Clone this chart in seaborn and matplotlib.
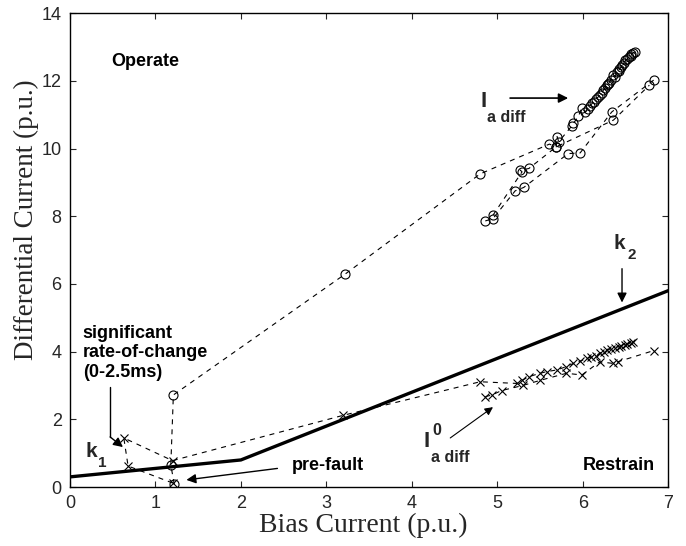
import matplotlib
matplotlib.use("Agg")
import matplotlib.pyplot as plt
import seaborn as sns

# Relay characteristic (bias vs. differential threshold)
char_bias = [0.0, 2.0, 7.0]
char_diff = [0.3, 0.8, 5.8]

# I_a diff trajectories (circles)
ia_main_bias = [1.22, 1.18, 1.21, 3.22, 4.80, 5.61, 5.69, 5.70, 5.72, 5.87, 5.89, 5.95, 5.99,
                6.03, 6.06, 6.08, 6.11, 6.13, 6.15, 6.18, 6.20, 6.22, 6.24, 6.26, 6.28,
                6.30, 6.31, 6.33, 6.36, 6.38, 6.40, 6.42, 6.43, 6.45, 6.46, 6.48, 6.50,
                6.52, 6.54, 6.56, 6.57, 6.59, 6.61]
ia_main_diff = [0.09, 0.65, 2.72, 6.29, 9.25, 10.13, 10.05, 10.35, 10.20, 10.66, 10.74, 10.95,
                11.21, 11.08, 11.18, 11.25, 11.33, 11.38, 11.45, 11.52, 11.58, 11.64, 11.72,
                11.78, 11.87, 11.90, 11.95, 12.03, 12.17, 12.12, 12.25, 12.30, 12.35, 12.40,
                12.46, 12.52, 12.60, 12.64, 12.71, 12.74, 12.78, 12.82, 12.86]
ia_b_bias = [4.86, 4.95, 5.21, 5.31, 5.83, 5.97, 6.34, 6.83]
ia_b_diff = [7.86, 7.93, 8.75, 8.85, 9.85, 9.87, 11.08, 12.02]
ia_c_bias = [4.95, 5.29, 5.27, 5.37, 5.69, 6.36, 6.78]
ia_c_diff = [8.03, 9.31, 9.36, 9.41, 10.05, 10.84, 11.87]

# I0_a diff trajectories (crosses)
i0_main_bias = [1.20, 0.68, 0.63, 1.20, 3.20, 4.80, 5.23, 5.29, 5.37, 5.50, 5.58, 5.70, 5.80,
                5.89, 5.97, 6.05, 6.10, 6.15, 6.20, 6.25, 6.28, 6.33, 6.38, 6.42, 6.45,
                6.49, 6.52, 6.56, 6.59]
i0_main_diff = [0.12, 0.62, 1.45, 0.78, 2.12, 3.11, 3.06, 3.15, 3.26, 3.36, 3.41, 3.46, 3.55,
                3.65, 3.72, 3.80, 3.84, 3.88, 3.95, 4.00, 4.05, 4.08, 4.12, 4.15, 4.18,
                4.20, 4.22, 4.26, 4.29]
i0_b_bias = [4.86, 4.94, 5.05, 5.30, 5.50, 5.81, 5.99, 6.20, 6.36, 6.41, 6.83]
i0_b_diff = [2.67, 2.72, 2.85, 3.00, 3.15, 3.36, 3.31, 3.70, 3.65, 3.70, 4.03]

x_ticks = [0, 1, 2, 3, 4, 5, 6, 7]
y_ticks = [0, 2, 4, 6, 8, 10, 12, 14]

sns.set_style("ticks")
plt.rcParams["font.family"] = ["Liberation Sans", "DejaVu Sans"]

fig = plt.figure(figsize=(6.86, 5.46), dpi=100)
ax = fig.add_axes([0.102, 0.108, 0.872, 0.868])

dash = (0, (4.5, 4.5))
circle_kw = dict(marker="o", markersize=6.5, markerfacecolor="none",
                 markeredgecolor="black", markeredgewidth=0.8)
cross_kw = dict(marker="x", markersize=6, markeredgecolor="black", markeredgewidth=0.8)

for xs, ys in [(ia_main_bias, ia_main_diff), (ia_b_bias, ia_b_diff), (ia_c_bias, ia_c_diff)]:
    sns.lineplot(x=xs, y=ys, sort=False, estimator=None, ax=ax, color="black",
                 linewidth=0.8, linestyle=dash, **circle_kw)
for xs, ys in [(i0_main_bias, i0_main_diff), (i0_b_bias, i0_b_diff)]:
    sns.lineplot(x=xs, y=ys, sort=False, estimator=None, ax=ax, color="black",
                 linewidth=0.8, linestyle=dash, **cross_kw)

sns.lineplot(x=char_bias, y=char_diff, sort=False, estimator=None, ax=ax,
             color="black", linewidth=2.4)

ax.set_xlim(0, 7)
ax.set_ylim(0, 14)
ax.set_xticks(x_ticks)
ax.set_yticks(y_ticks)
ax.tick_params(direction="in", length=4, width=0.8, top=True, right=True,
               labelsize=13, pad=6)
for sp in ax.spines.values():
    sp.set_visible(True)
    sp.set_linewidth(1.0)
    sp.set_color("black")

serif = ["Liberation Serif", "DejaVu Serif"]
ax.set_xlabel("Bias Current (p.u.)", fontsize=20, family=serif, labelpad=0)
ax.set_ylabel("Differential Current (p.u.)", fontsize=19.5, family=serif, labelpad=2)
ax.xaxis.label.set_x(0.49)
ax.yaxis.label.set_y(0.565)

bold = dict(fontsize=13, fontweight="bold", color="black")
ax.text(0.48, 12.58, "Operate", va="center", ha="left", **bold)
ax.text(6.0, 0.65, "Restrain", va="center", ha="left", **bold)
ax.text(2.6, 0.65, "pre-fault", va="center", ha="left", **bold)
ax.annotate("", xy=(1.33, 0.2), xytext=(2.46, 0.56),
            arrowprops=dict(arrowstyle="-|>", color="black", lw=1.0, mutation_scale=14))

ax.text(0.15, 3.97, "significant\nrate-of-change\n(0-2.5ms)", va="center", ha="left",
        linespacing=1.2, **bold)
ax.plot([0.47, 0.47], [2.95, 1.48], color="black", lw=1.0)
ax.annotate("", xy=(0.62, 1.18), xytext=(0.47, 1.48),
            arrowprops=dict(arrowstyle="-|>", color="black", lw=1.0, mutation_scale=14,
                            shrinkA=0, shrinkB=0))

# slope labels
ax.text(0.18, 1.05, "k", va="center", ha="left", fontsize=15, fontweight="bold")
ax.text(0.33, 0.7, "1", va="center", ha="left", fontsize=11, fontweight="bold")
ax.text(6.36, 7.2, "k", va="center", ha="left", fontsize=15, fontweight="bold")
ax.text(6.52, 6.85, "2", va="center", ha="left", fontsize=11, fontweight="bold")
ax.annotate("", xy=(6.46, 5.45), xytext=(6.46, 6.45),
            arrowprops=dict(arrowstyle="-|>", color="black", lw=1.0, mutation_scale=14,
                            shrinkA=0, shrinkB=0))

# I_a diff label
ax.text(4.80, 11.4, "I", va="center", ha="left", fontsize=16, fontweight="bold")
ax.text(4.88, 10.93, "a diff", va="center", ha="left", fontsize=11.5, fontweight="bold")
ax.annotate("", xy=(5.83, 11.49), xytext=(5.15, 11.49),
            arrowprops=dict(arrowstyle="-|>", color="black", lw=1.2, mutation_scale=14,
                            shrinkA=0, shrinkB=0))

# I0_a diff label
ax.text(4.14, 1.35, "I", va="center", ha="left", fontsize=16, fontweight="bold")
ax.text(4.24, 1.68, "0", va="center", ha="left", fontsize=11.5, fontweight="bold")
ax.text(4.22, 0.86, "a diff", va="center", ha="left", fontsize=11.5, fontweight="bold")
ax.annotate("", xy=(4.95, 2.36), xytext=(4.45, 1.45),
            arrowprops=dict(arrowstyle="-|>", color="black", lw=0.8, mutation_scale=12,
                            shrinkA=0, shrinkB=0))

fig.savefig("out.png", dpi=100)
